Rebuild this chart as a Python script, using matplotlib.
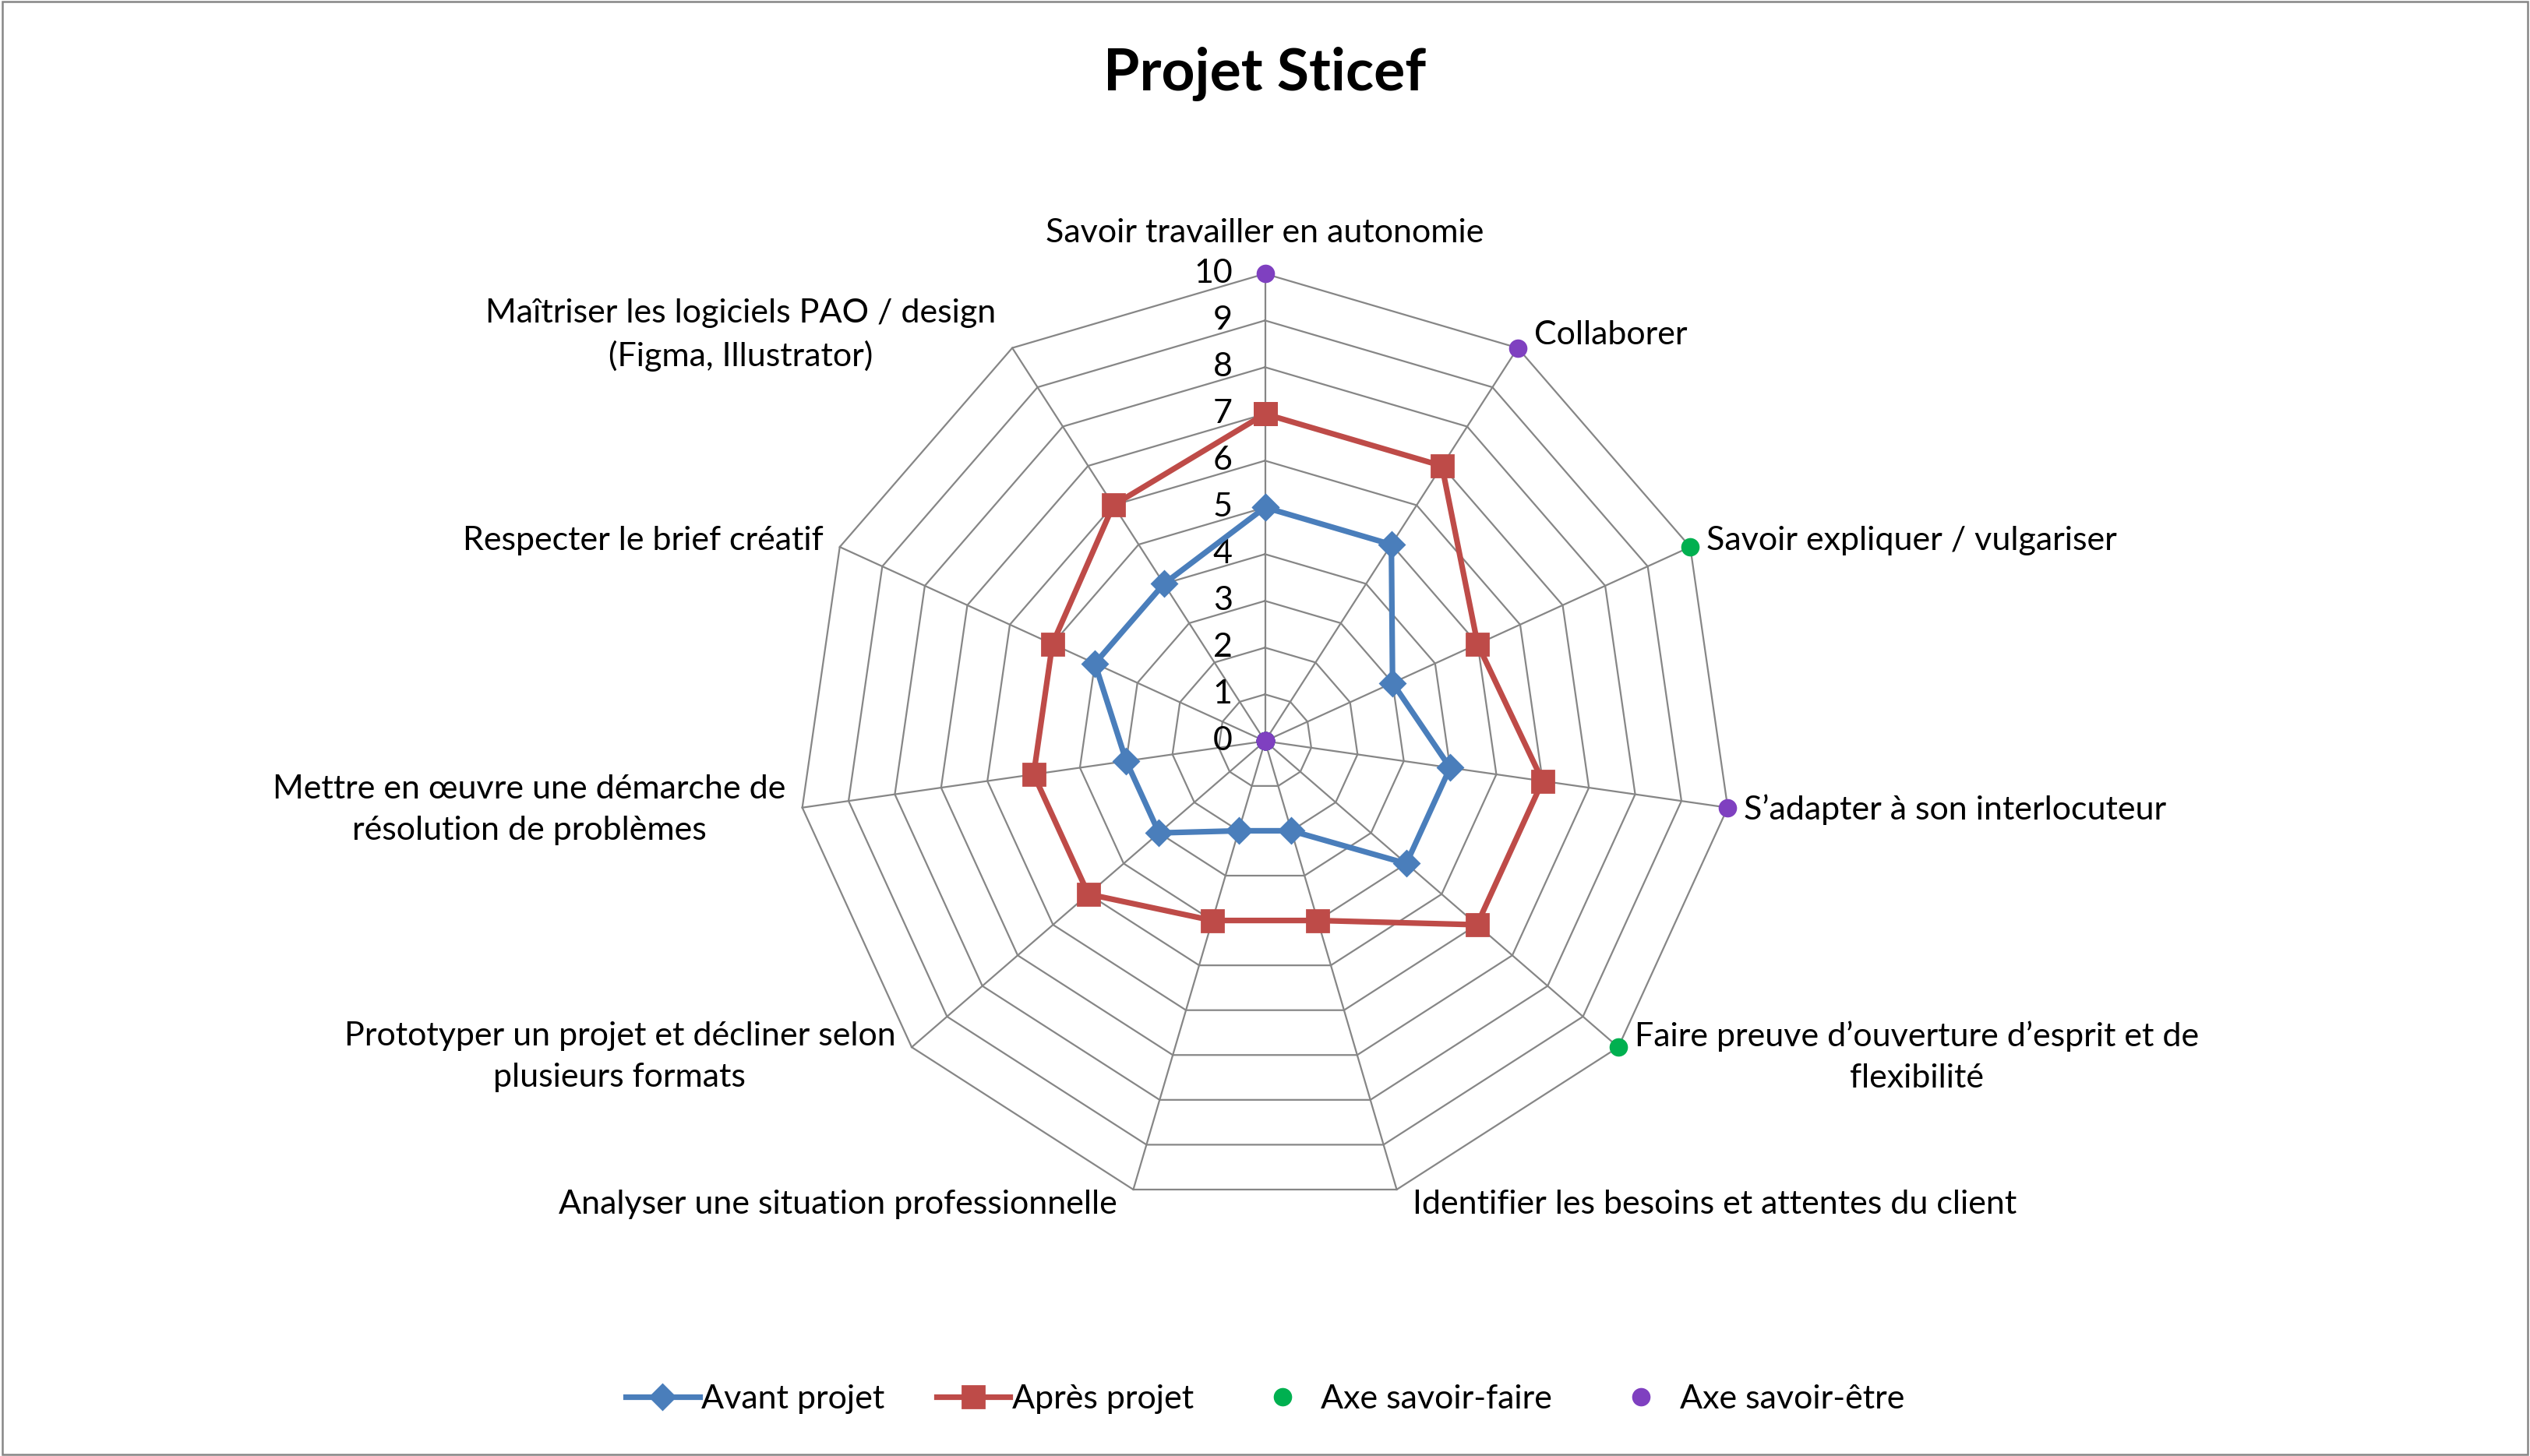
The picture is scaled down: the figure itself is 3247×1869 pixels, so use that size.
import numpy as np
import matplotlib
matplotlib.use("Agg")
import matplotlib.pyplot as plt
from matplotlib.patches import Rectangle

plt.rcParams['font.family'] = ['Lato', 'DejaVu Sans']

# ------------------- Data: ---------------------------------------------------------
categories = [
    "Savoir travailler en autonomie",
    "Collaborer",
    "Savoir expliquer / vulgariser",
    "S\u2019adapter à son interlocuteur",
    "Faire preuve d\u2019ouverture d\u2019esprit et de\nflexibilité",
    "Identifier les besoins et attentes du client",
    "Analyser une situation professionnelle",
    "Prototyper un projet et décliner selon\nplusieurs formats",
    "Mettre en œuvre une démarche de\nrésolution de problèmes",
    "Respecter le brief créatif",
    "Maîtriser les logiciels PAO / design\n(Figma, Illustrator)",
]
avant_projet = [5, 5, 3, 4, 4, 2, 2, 3, 3, 4, 4]
apres_projet = [7, 7, 5, 6, 6, 4, 4, 5, 5, 5, 6]
axe_savoir_faire = [0, 0, 10, 0, 10, 0, 0, 0, 0, 0, 0]
axe_savoir_etre = [10, 10, 0, 10, 0, 0, 0, 0, 0, 0, 0]
levels = [0, 1, 2, 3, 4, 5, 6, 7, 8, 9, 10]

BLUE = '#4A7EBB'
RED = '#BE4B48'
GREEN = '#00B050'
PURPLE = '#7F40C0'
GRID = '#868686'
FS = 15.5

# ------------------- Plot: ---------------------------------------------------------
fig = plt.figure(figsize=(3247 / 200, 1869 / 200), dpi=200)
fig.patches.append(Rectangle((0.0008, 0.0012), 0.9984, 0.9976, transform=fig.transFigure,
                             fill=False, edgecolor=GRID, linewidth=0.9))

r_h = 0.642
r_w = r_h * 1869 / 3247
ax = fig.add_axes([0.5 - r_w / 2, 0.491 - r_h / 2, r_w, r_h], projection='polar')
ax.set_theta_zero_location('N')
ax.set_theta_direction(-1)
ax.set_ylim(0, 10)
ax.grid(False)
ax.spines['polar'].set_visible(False)
ax.set_xticks([])
ax.set_yticks([])
ax.patch.set_alpha(0)

n = len(categories)
angles = np.arange(n) * 2 * np.pi / n
closed = np.append(angles, angles[0])

# web grid
for lv in levels[1:]:
    ax.plot(closed, [lv] * (n + 1), color=GRID, linewidth=0.8, zorder=1, clip_on=False)
for a in angles:
    ax.plot([a, a], [0, 10], color=GRID, linewidth=0.8, zorder=1, clip_on=False)

# value labels along first axis
for lv in levels:
    ax.annotate(str(lv), (0, lv), xytext=(-15, 0), textcoords='offset points',
                ha='right', va='center', fontsize=FS)

ax.plot(closed, avant_projet + avant_projet[:1], color=BLUE, linewidth=2.6,
        marker='D', markersize=8, zorder=3, label='Avant projet', clip_on=False)
ax.plot(closed, apres_projet + apres_projet[:1], color=RED, linewidth=2.6,
        marker='s', markersize=10, zorder=3, label='Après projet', clip_on=False)
ax.plot(angles, axe_savoir_faire, linestyle='none', marker='o', color=GREEN,
        markersize=7.5, zorder=4, label='Axe savoir-faire', clip_on=False)
ax.plot(angles, axe_savoir_etre, linestyle='none', marker='o', color=PURPLE,
        markersize=7.5, zorder=5, label='Axe savoir-être', clip_on=False)

# category labels
for a, lab in zip(angles, categories):
    s, c = np.sin(a), np.cos(a)
    if abs(s) < 0.1:
        ha, dx, dy = 'center', 0, 19
    else:
        ha = 'left' if s > 0 else 'right'
        dx = 7.5 if s > 0 else -7.5
        dy = 7 * c
    ax.annotate(lab, (a, 10), xytext=(dx, dy), textcoords='offset points',
                ha=ha, va='center', multialignment='center', fontsize=FS,
                linespacing=1.48, annotation_clip=False)

fig.text(0.5, 0.949, 'Projet Sticef', ha='center', va='center',
         fontsize=27, fontweight='bold')

fig.legend(loc='center', bbox_to_anchor=(0.5, 0.039), ncol=4, frameon=False,
           fontsize=FS, handlelength=2.2, handletextpad=0.05, columnspacing=1.55)

fig.savefig('out.png', dpi=200)
